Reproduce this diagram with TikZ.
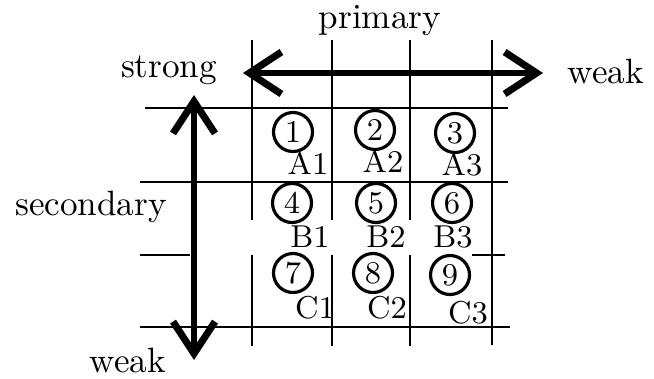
\documentclass[tikz,border=0pt]{standalone}
\usepackage{tikz}
\usetikzlibrary{arrows.meta}
\tikzset{
  gline/.style={line width=0.6pt, black},
  bigarr/.style={{Straight Barb[length=3.2mm,width=4.2mm,line width=2pt]}-{Straight Barb[length=3.2mm,width=4.2mm,line width=2pt]},
    line width=1.6pt, black},
  numc/.style={circle, draw, line width=0.9pt, inner sep=0pt, minimum size=3.9mm,
    font=\small},
  celllbl/.style={font=\small, inner sep=0pt},
  axislbl/.style={anchor=base, inner sep=0pt}
}
\begin{document}
\begin{tikzpicture}[x=1mm,y=1mm]
  \useasboundingbox (0,0) rectangle (65.4,37.8);
  % grid: rows A, B, C and columns 1, 2, 3
  \coordinate (h1l) at (14.5,27.0); \coordinate (h1r) at (50.8,27.0);
  \coordinate (h2l) at (14.0,19.6); \coordinate (h2r) at (50.8,19.6);
  \coordinate (h4l) at (14.0,5.1);  \coordinate (h4r) at (51.0,5.1);
  \draw[gline] (h1l) -- (h1r);
  \draw[gline] (h2l) -- (h2r);
  \draw[gline] (14.0,12.3) -- (19.0,12.3);
  \draw[gline] (47.2,12.3) -- (50.5,12.3);
  \draw[gline] (h4l) -- (h4r);
  \foreach \x in {25.2,33.2,41.0} {
    \draw[gline] (\x,33.8) -- (\x,15.8);
    \draw[gline] (\x,12.3) -- (\x,3.2);
  }
  \draw[gline] (49.2,33.8) -- (49.2,3.3);

  % axes
  \coordinate (pstrong) at (24.3,30.5);
  \coordinate (pweak) at (54.3,30.5);
  \coordinate (sstrong) at (19.4,28.3);
  \coordinate (sweak) at (19.4,1.8);
  \draw[bigarr] (pstrong) -- (pweak);
  \draw[bigarr] (sweak) -- (sstrong);

  \node[axislbl] (primary) at (38.0,35.0) {primary};
  \node[axislbl] (strongp) at (16.9,30.1) {strong};
  \node[axislbl] (weakp) at (60.6,29.5) {weak};
  \node[axislbl] (secondary) at (9.1,16.3) {secondary};
  \node[axislbl] (weaks) at (12.8,0.6) {weak};

  % numbered cells
  \foreach \n/\x/\y in {1/29.3/24.6, 2/37.5/24.8, 3/45.5/24.5,
                        4/29.2/17.5, 5/37.6/17.5, 6/45.2/17.5,
                        7/29.3/10.5, 8/37.3/10.5, 9/45.0/10.3}
    \node[numc] (n\n) at (\x,\y) {\n};

  \node[celllbl] (a1) at (30.8,21.5) {A1};
  \node[celllbl] (a2) at (38.3,21.7) {A2};
  \node[celllbl] (a3) at (46.2,21.3) {A3};
  \node[celllbl] (b1) at (31.0,14.1) {B1};
  \node[celllbl] (b2) at (38.6,14.1) {B2};
  \node[celllbl] (b3) at (45.3,14.1) {B3};
  \node[celllbl] (c1) at (31.5,7.0) {C1};
  \node[celllbl] (c2) at (38.7,7.0) {C2};
  \node[celllbl] (c3) at (46.8,6.5) {C3};
\end{tikzpicture}
\end{document}
